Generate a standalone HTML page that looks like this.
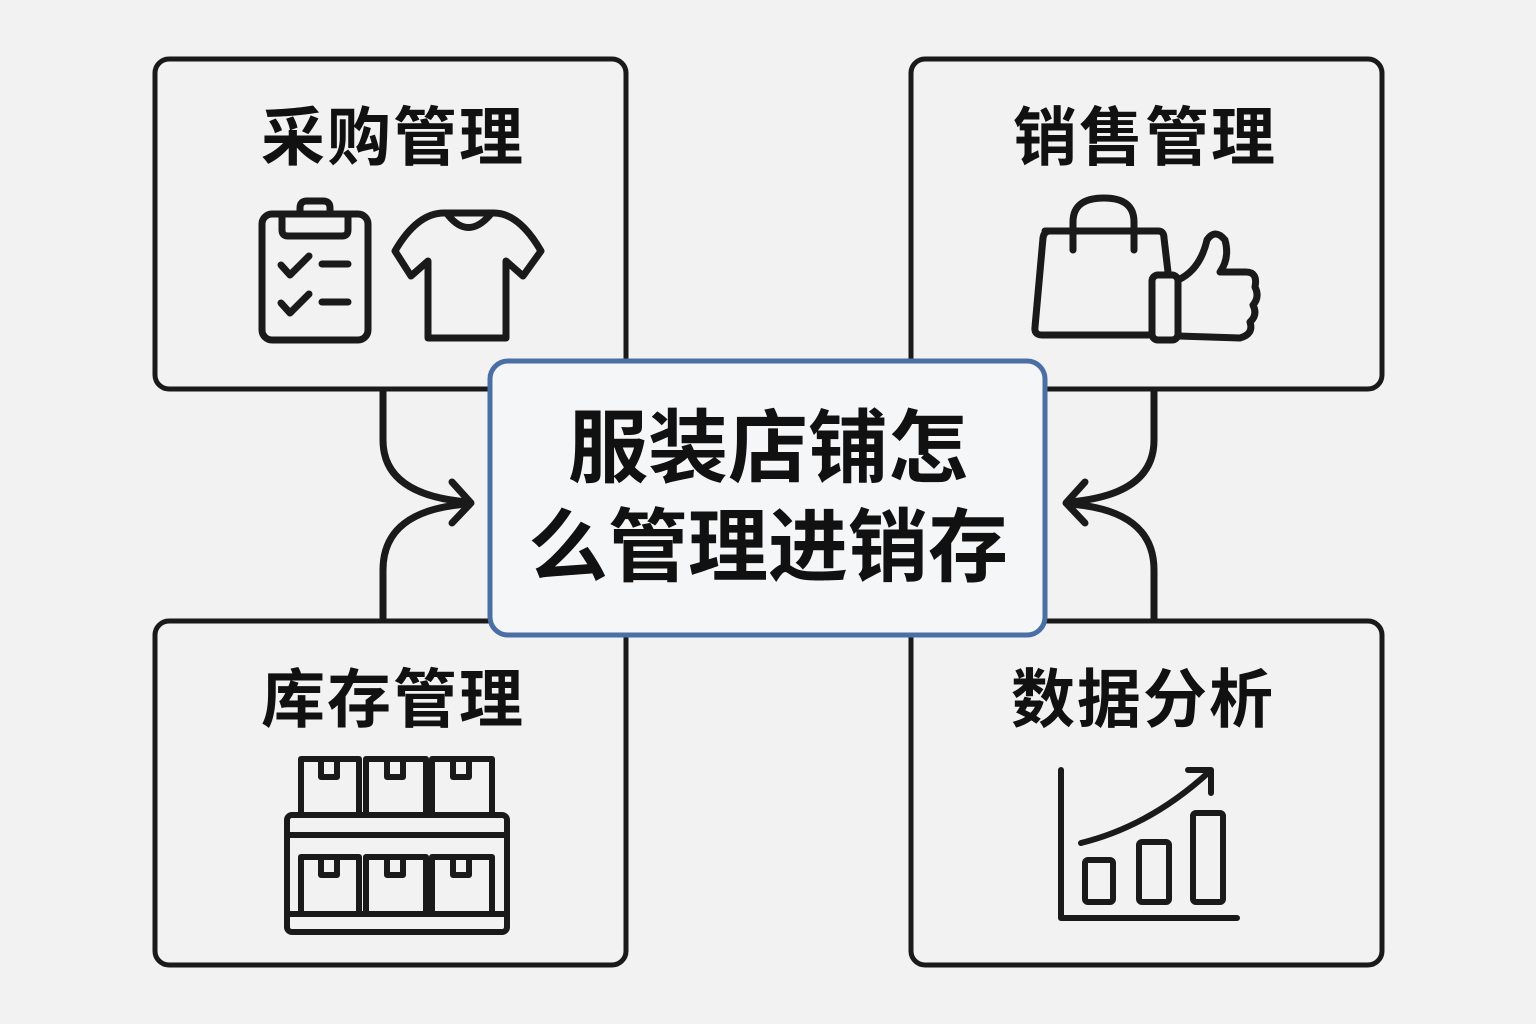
<!DOCTYPE html>
<html><head><meta charset="utf-8"><style>
html,body{margin:0;padding:0;background:#f2f2f2;}
svg{display:block}
text{font-family:"Liberation Sans","Noto Sans CJK SC",sans-serif;font-weight:bold;fill:#111}
</style></head><body>
<svg width="1536" height="1024" viewBox="0 0 1536 1024" xmlns="http://www.w3.org/2000/svg">
<rect width="1536" height="1024" fill="#f2f2f2"/>
<g fill="none" stroke="#1a1a1a" stroke-width="5" stroke-linecap="round" stroke-linejoin="round">
<rect x="155" y="59" width="471" height="330" rx="14" fill="#f2f2f2"/>
<rect x="911" y="59" width="471" height="330" rx="14" fill="#f2f2f2"/>
<rect x="155" y="621" width="471" height="344" rx="14" fill="#f2f2f2"/>
<rect x="911" y="621" width="471" height="344" rx="14" fill="#f2f2f2"/>
<g stroke-width="7">
<path d="M383 390 V440 Q383 495 468 502"/>
<path d="M383 620 V570 Q383 510 468 504"/>
<path d="M452 482 L471 503 L452 523"/>
<path d="M1154 390 V440 Q1154 495 1069 502"/>
<path d="M1154 620 V570 Q1154 510 1069 504"/>
<path d="M1085 482 L1066 503 L1085 523"/>
</g>
<g stroke-width="7">
<rect x="262" y="214" width="106" height="126" rx="10"/>
<path d="M282 214 V230 Q282 236 288 236 H342 Q348 236 348 230 V214 H330 V208 Q330 201 323 201 H307 Q300 201 300 208 V214 Z"/>
<path d="M281 265 L290 275 L309 256 M322 264 H348 M281 303 L290 313 L309 294 M322 302 H348"/>
<path d="M453 213 L494 213 Q519 213 541 251 L523 276 L506 261 V338 H428 V261 L411 276 L395 251 Q417 213 444 213 Z"/>
<path d="M448 215 Q468 240 490 215"/>
</g>
<g stroke-width="7">
<path d="M1045 231 H1158 Q1164 231 1164 238 L1168 272 M1152 335 H1042 Q1034 335 1035 327 L1043 238 Q1044 231 1050 231"/>
<path d="M1073 250 V222 Q1073 198 1104 198 Q1134 198 1134 222 V250"/>
<rect x="1152" y="275" width="26" height="65" rx="6"/>
<path d="M1178 280 Q1200 270 1207 240 Q1215 228 1225 240 Q1230 258 1220 272 H1246 Q1258 272 1255 287 Q1260 297 1253 305 Q1258 315 1250 322 Q1254 334 1240 338 L1178 336"/>
</g>
<g stroke-width="6">
<rect x="287" y="815" width="220" height="117" rx="5"/>
<path d="M287 835 H507"/>
<rect x="301" y="759" width="58" height="56"/><rect x="366" y="759" width="60" height="56"/><rect x="432" y="759" width="60" height="56"/>
<path d="M321 759 V777 H337 V759 M387 759 V777 H403 V759 M453 759 V777 H469 V759"/>
<rect x="301" y="857" width="58" height="57"/><rect x="366" y="857" width="60" height="57"/><rect x="432" y="857" width="60" height="57"/>
<path d="M321 857 V875 H337 V857 M387 857 V875 H403 V857 M453 857 V875 H469 V857"/>
<path d="M287 914 H507"/>
</g>
<g stroke-width="6">
<path d="M1061 770 V918 H1237"/>
<rect x="1085" y="860" width="28" height="42" rx="3"/>
<rect x="1139" y="842" width="30" height="60" rx="3"/>
<rect x="1193" y="813" width="30" height="89" rx="3"/>
<path d="M1081 843 Q1150 826 1209 772 M1188 770 H1211 V793"/>
</g>
</g>
<rect x="490" y="361" width="555" height="274" rx="18" fill="#f5f6f8" stroke="#4a6fa5" stroke-width="5"/>
<text x="393" y="160" font-size="64" text-anchor="middle" letter-spacing="2">采购管理</text>
<text x="1145" y="160" font-size="64" text-anchor="middle" letter-spacing="2">销售管理</text>
<text x="393" y="722" font-size="64" text-anchor="middle" letter-spacing="2">库存管理</text>
<text x="1143" y="722" font-size="64" text-anchor="middle" letter-spacing="2">数据分析</text>
<text x="768" y="476" font-size="80" text-anchor="middle">服装店铺怎</text>
<text x="768" y="575" font-size="80" text-anchor="middle">么管理进销存</text>
</svg>
</body></html>
